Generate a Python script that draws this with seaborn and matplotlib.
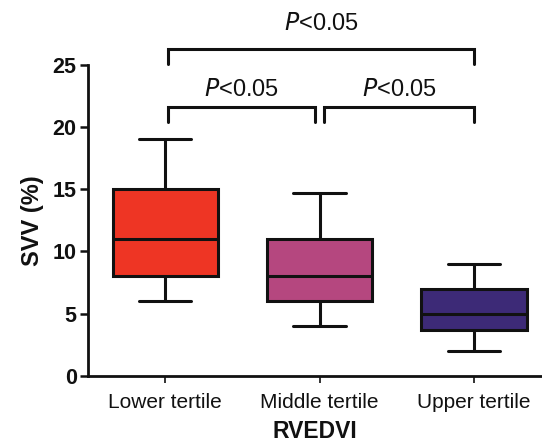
import numpy as np
import pandas as pd
import matplotlib
matplotlib.use("Agg")
import matplotlib.pyplot as plt
import seaborn as sns

# Dati (min, Q1, mediana, Q3, max per ogni gruppo)
groups = ["Lower tertile", "Middle tertile", "Upper tertile"]
lower_vals = [6, 8, 11, 15, 19]
middle_vals = [4, 6, 8, 11, 14.7]
upper_vals = [2, 3.7, 5, 7, 9]
colors = ["#EE3524", "#B5477F", "#3D2A77"]

# etichette di significatività: (gruppo a, gruppo b, testo)
comparisons = [(0, 2, "<0.05"), (0, 1, "<0.05"), (1, 2, "<0.05")]

df = pd.DataFrame({
    "group": [groups[0]] * 5 + [groups[1]] * 5 + [groups[2]] * 5,
    "svv": lower_vals + middle_vals + upper_vals,
})

sns.set_style("ticks")
plt.rcParams["font.family"] = ["Liberation Sans", "DejaVu Sans"]
plt.rcParams["text.color"] = "#111111"
plt.rcParams["axes.labelcolor"] = "#111111"
plt.rcParams["xtick.color"] = "#111111"
plt.rcParams["ytick.color"] = "#111111"

fig = plt.figure(figsize=(5.42, 4.47), dpi=100)
ax = fig.add_axes([0.162, 0.159, 0.838, 0.696])

sns.boxplot(data=df, x="group", y="svv", hue="group", palette=colors,
            saturation=1, width=0.68, whis=(0, 100), linecolor="#111111",
            linewidth=2.2, fliersize=0, legend=False, ax=ax)

ax.set_ylim(0, 25)
ax.set_xlim(-0.5, 2.44)
ax.set_yticks([0, 5, 10, 15, 20, 25])
ax.set_ylabel("SVV (%)", fontsize=17, fontweight="bold", labelpad=6)
ax.set_xlabel("RVEDVI", fontsize=16.5, fontweight="bold", labelpad=6)
for lab in ax.get_yticklabels():
    lab.set_fontweight("bold")
ax.tick_params(axis="y", labelsize=15.5, width=1.8, length=6, pad=2)
ax.tick_params(axis="x", labelsize=15, width=1.2, length=5, pad=7)
for s in ["left", "bottom"]:
    ax.spines[s].set_linewidth(2)
    ax.spines[s].set_color("#111111")
sns.despine(ax=ax)

# parentesi con i p-value
def bracket(x1, x2, y, h, label, ty):
    ax.plot([x1, x1, x2, x2], [y - h, y, y, y - h], color="#111111", lw=2.2,
            clip_on=False, solid_joinstyle="miter")
    ax.text((x1 + x2) / 2, ty, r"$\it{P}$" + label, ha="center", va="center",
            fontsize=17, clip_on=False)

bracket(0.02, 2.0, 26.3, 1.2, comparisons[0][2], 28.3)
bracket(0.02, 0.97, 21.6, 1.2, comparisons[1][2], 23.0)
bracket(1.03, 2.0, 21.6, 1.2, comparisons[2][2], 23.0)

fig.savefig("out.png", dpi=100)
